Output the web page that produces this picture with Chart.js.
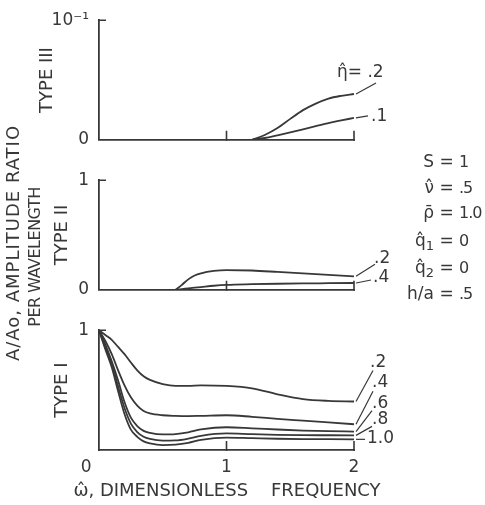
<!DOCTYPE html>
<html>
<head>
<meta charset="utf-8">
<script src="https://cdn.jsdelivr.net/npm/chart.js@4.4.0/dist/chart.umd.min.js"></script>
<style>
  html, body { margin: 0; padding: 0; background: #fff; }
  #fig { position: relative; width: 485px; height: 505px; overflow: hidden;
         font-family: "DejaVu Sans", sans-serif; color: #383838; }
  .pane { position: absolute; left: 0; }
  .vert { position: absolute; white-space: nowrap; line-height: 20px;
          transform: translate(-50%, -50%) rotate(-90deg); }
  .xtitle { position: absolute; left: 227px; top: 490px; font-size: 18px; line-height: 20px;
            white-space: pre; transform: translate(-50%, -50%); }
  .param { position: absolute; left: 377px; font-size: 17px; line-height: 20px; white-space: nowrap; }
  .param span { display: inline-block; }
  .param .k { width: 57px; text-align: right; }
  .param .eq { width: 25px; text-align: center; }
  .param .v { font-size: 16px; letter-spacing: -1px; }
  .param sub { font-size: 13px; line-height: 0; vertical-align: -4px; }
</style>
</head>
<body>
<div id="fig">
  <canvas id="typeIII" class="pane" width="485" height="160" style="top:0"></canvas>
  <canvas id="typeII" class="pane" width="485" height="150" style="top:160px"></canvas>
  <canvas id="typeI" class="pane" width="485" height="195" style="top:310px"></canvas>

  <div class="vert" style="left:13px; top:243px; font-size:18px; letter-spacing:1px">A/Ao, AMPLITUDE RATIO</div>
  <div class="vert" style="left:35px; top:257px; font-size:16px; letter-spacing:-0.5px">PER WAVELENGTH</div>
  <div class="xtitle">&#969;&#770;, DIMENSIONLESS    FREQUENCY</div>

  <div class="param" style="top:151px"><span class="k">S</span><span class="eq">=</span><span class="v">1</span></div>
  <div class="param" style="top:177px"><span class="k">&#957;&#770;</span><span class="eq">=</span><span class="v">.5</span></div>
  <div class="param" style="top:202px"><span class="k">&#961;&#772;</span><span class="eq">=</span><span class="v">1.0</span></div>
  <div class="param" style="top:230px"><span class="k">q&#770;<sub>1</sub></span><span class="eq">=</span><span class="v">0</span></div>
  <div class="param" style="top:257px"><span class="k">q&#770;<sub>2</sub></span><span class="eq">=</span><span class="v">0</span></div>
  <div class="param" style="top:283px"><span class="k">h/a</span><span class="eq">=</span><span class="v">.5</span></div>
</div>

<script>
// Type I: amplitude ratio per wavelength vs dimensionless frequency, one curve per eta
var omegaI = [0, 0.05, 0.1, 0.15, 0.2, 0.25, 0.3, 0.35, 0.4, 0.5, 0.6, 0.7, 0.8, 1.0, 1.2, 1.4, 1.6, 1.8, 2.0];
var typeI_02 = [1.00, 0.96, 0.92, 0.86, 0.80, 0.73, 0.665, 0.615, 0.585, 0.55, 0.535, 0.535, 0.54, 0.535, 0.515, 0.465, 0.425, 0.41, 0.405];
var typeI_04 = [1.00, 0.91, 0.80, 0.665, 0.54, 0.44, 0.37, 0.325, 0.305, 0.29, 0.285, 0.283, 0.285, 0.29, 0.277, 0.26, 0.245, 0.23, 0.215];
var typeI_06 = [1.00, 0.88, 0.74, 0.58, 0.40, 0.27, 0.20, 0.16, 0.143, 0.13, 0.133, 0.148, 0.172, 0.19, 0.181, 0.171, 0.162, 0.157, 0.154];
var typeI_08 = [1.00, 0.86, 0.72, 0.53, 0.35, 0.22, 0.15, 0.11, 0.092, 0.078, 0.08, 0.095, 0.118, 0.138, 0.132, 0.127, 0.124, 0.123, 0.122];
var typeI_10 = [1.00, 0.84, 0.69, 0.49, 0.30, 0.17, 0.11, 0.072, 0.055, 0.041, 0.045, 0.06, 0.085, 0.104, 0.099, 0.094, 0.091, 0.09, 0.089];
var namesI = ['.2', '.4', '.6', '.8', '1.0'];

// Type II: only starts above omega = 0.6
var omegaII = [0.6, 0.65, 0.7, 0.75, 0.8, 0.9, 1.0, 1.2, 1.4, 1.6, 1.8, 2.0];
var typeII_02 = [0, 0.045, 0.095, 0.13, 0.15, 0.172, 0.18, 0.176, 0.163, 0.149, 0.136, 0.123];
var typeII_04 = [0, 0.006, 0.013, 0.019, 0.025, 0.037, 0.045, 0.051, 0.055, 0.058, 0.06, 0.062];
var namesII = ['.2', '.4'];

// Type III: scale is 0 .. 10^-1, starts above omega = 1.2
var omegaIII = [1.2, 1.3, 1.4, 1.5, 1.6, 1.7, 1.8, 1.9, 2.0];
var typeIII_02 = [0, 0.004, 0.0098, 0.0175, 0.0248, 0.0303, 0.0345, 0.0368, 0.0383];
var typeIII_01 = [0, 0.0015, 0.0038, 0.0062, 0.0088, 0.0114, 0.014, 0.0162, 0.0183];
var namesIII = ['\u03B7\u0302= .2', '.1'];

// axis labels
var yTicksIII = ['0', '10\u207B\u00B9'];
var yTicksII = ['0', '1'];
var yTicksI = ['', '1'];
var xTicksI = ['0', '1', '2'];
var omegaMarks = [1, 2];

var ink = '#383838';
var font = '"DejaVu Sans", sans-serif';

// where each curve name sits, relative to the end of its curve (text, then end of leader line)
var tagPosI = [
  { at: [16, -39], lead: [19, -31] },
  { at: [18, -42], lead: [19, -33] },
  { at: [18, -28], lead: [18, -21] },
  { at: [18, -16], lead: [18, -9] },
  { at: [13, -1], lead: [11, 0] }
];
var tagPosII = [
  { at: [20, -18], lead: [21, -12] },
  { at: [19, -5], lead: [17, -3] }
];
var tagPosIII = [
  { at: [-17, -21], lead: [22, -11] },
  { at: [17, -1], lead: [14, -2] }
];

function points(xs, ys) {
  return xs.map(function (x, i) { return { x: x, y: ys[i] }; });
}

function curve(xs, ys, name, pos) {
  return {
    data: points(xs, ys),
    tag: name,
    tagPos: pos,
    borderColor: ink,
    borderWidth: 1.8,
    pointRadius: 0,
    cubicInterpolationMode: 'monotone',
    fill: false
  };
}

// small frame ticks (inside the panel) + curve names with leader lines
var panelMarks = {
  id: 'panelMarks',
  afterDatasetsDraw: function (chart) {
    var ctx = chart.ctx, area = chart.chartArea, x = chart.scales.x;
    ctx.save();
    ctx.strokeStyle = ink;
    ctx.lineWidth = 1.6;
    ctx.beginPath();
    ctx.moveTo(area.left, area.top);
    ctx.lineTo(area.left + 7, area.top);
    omegaMarks.forEach(function (v) {
      var px = x.getPixelForValue(v);
      ctx.moveTo(px, area.bottom + 1);
      ctx.lineTo(px, area.bottom - 9);
    });
    ctx.stroke();

    ctx.fillStyle = ink;
    ctx.font = '17px ' + font;
    ctx.textAlign = 'left';
    ctx.textBaseline = 'middle';
    ctx.lineWidth = 1.2;
    chart.data.datasets.forEach(function (ds, i) {
      var pts = chart.getDatasetMeta(i).data;
      var end = pts[pts.length - 1];
      ctx.beginPath();
      ctx.moveTo(end.x + 2, end.y);
      ctx.lineTo(end.x + ds.tagPos.lead[0], end.y + ds.tagPos.lead[1]);
      ctx.stroke();
      ctx.fillText(ds.tag, end.x + ds.tagPos.at[0], end.y + ds.tagPos.at[1]);
    });
    ctx.restore();
  }
};

function panel(id, datasets, o) {
  return new Chart(document.getElementById(id), {
    type: 'line',
    data: { datasets: datasets },
    plugins: [panelMarks],
    options: {
      responsive: false,
      animation: false,
      devicePixelRatio: 1,
      layout: { padding: { left: 0, right: 131, top: o.top, bottom: 0 } },
      plugins: { legend: { display: false }, tooltip: { enabled: false } },
      scales: {
        x: {
          type: 'linear', min: 0, max: 2,
          grid: { display: false, drawTicks: false },
          border: { display: true, color: ink, width: 1.8 },
          ticks: {
            display: !!o.xTicks, stepSize: 1, padding: 7, color: ink,
            font: { family: font, size: 17 }, maxRotation: 0,
            callback: function (v, i) {
              // origin label sits left of the corner
              return o.xTicks ? (i === 0 ? o.xTicks[i] + '\u2003\u2002' : o.xTicks[i]) : '';
            }
          },
          afterFit: function (s) { s.height = o.xHeight; }
        },
        y: {
          type: 'linear', min: 0, max: o.yMax,
          grid: { display: false, drawTicks: false },
          border: { display: true, color: ink, width: 1.8 },
          ticks: {
            stepSize: o.yMax, padding: 10, color: ink,
            font: { family: font, size: 17 },
            callback: function (v, i) { return o.yTicks[i]; }
          },
          title: {
            display: true, text: o.name, color: ink,
            font: { family: font, size: 18 }, padding: { top: o.namePad, bottom: 0 }
          },
          afterFit: function (s) { s.width = 99; }
        }
      }
    }
  });
}

panel('typeIII', [
  curve(omegaIII, typeIII_02, namesIII[0], tagPosIII[0]),
  curve(omegaIII, typeIII_01, namesIII[1], tagPosIII[1])
], { top: 20, xHeight: 14, yMax: 0.1, yTicks: yTicksIII, name: 'TYPE III', namePad: 37 });

panel('typeII', [
  curve(omegaII, typeII_02, namesII[0], tagPosII[0]),
  curve(omegaII, typeII_04, namesII[1], tagPosII[1])
], { top: 11, xHeight: 13, yMax: 1, yTicks: yTicksII, name: 'TYPE II', namePad: 52 });

panel('typeI', [
  curve(omegaI, typeI_02, namesI[0], tagPosI[0]),
  curve(omegaI, typeI_04, namesI[1], tagPosI[1]),
  curve(omegaI, typeI_06, namesI[2], tagPosI[2]),
  curve(omegaI, typeI_08, namesI[3], tagPosI[3]),
  curve(omegaI, typeI_10, namesI[4], tagPosI[4])
], { top: 14, xHeight: 55, yMax: 1, yTicks: yTicksI, name: 'TYPE I', namePad: 52, xTicks: xTicksI });
</script>
</body>
</html>
